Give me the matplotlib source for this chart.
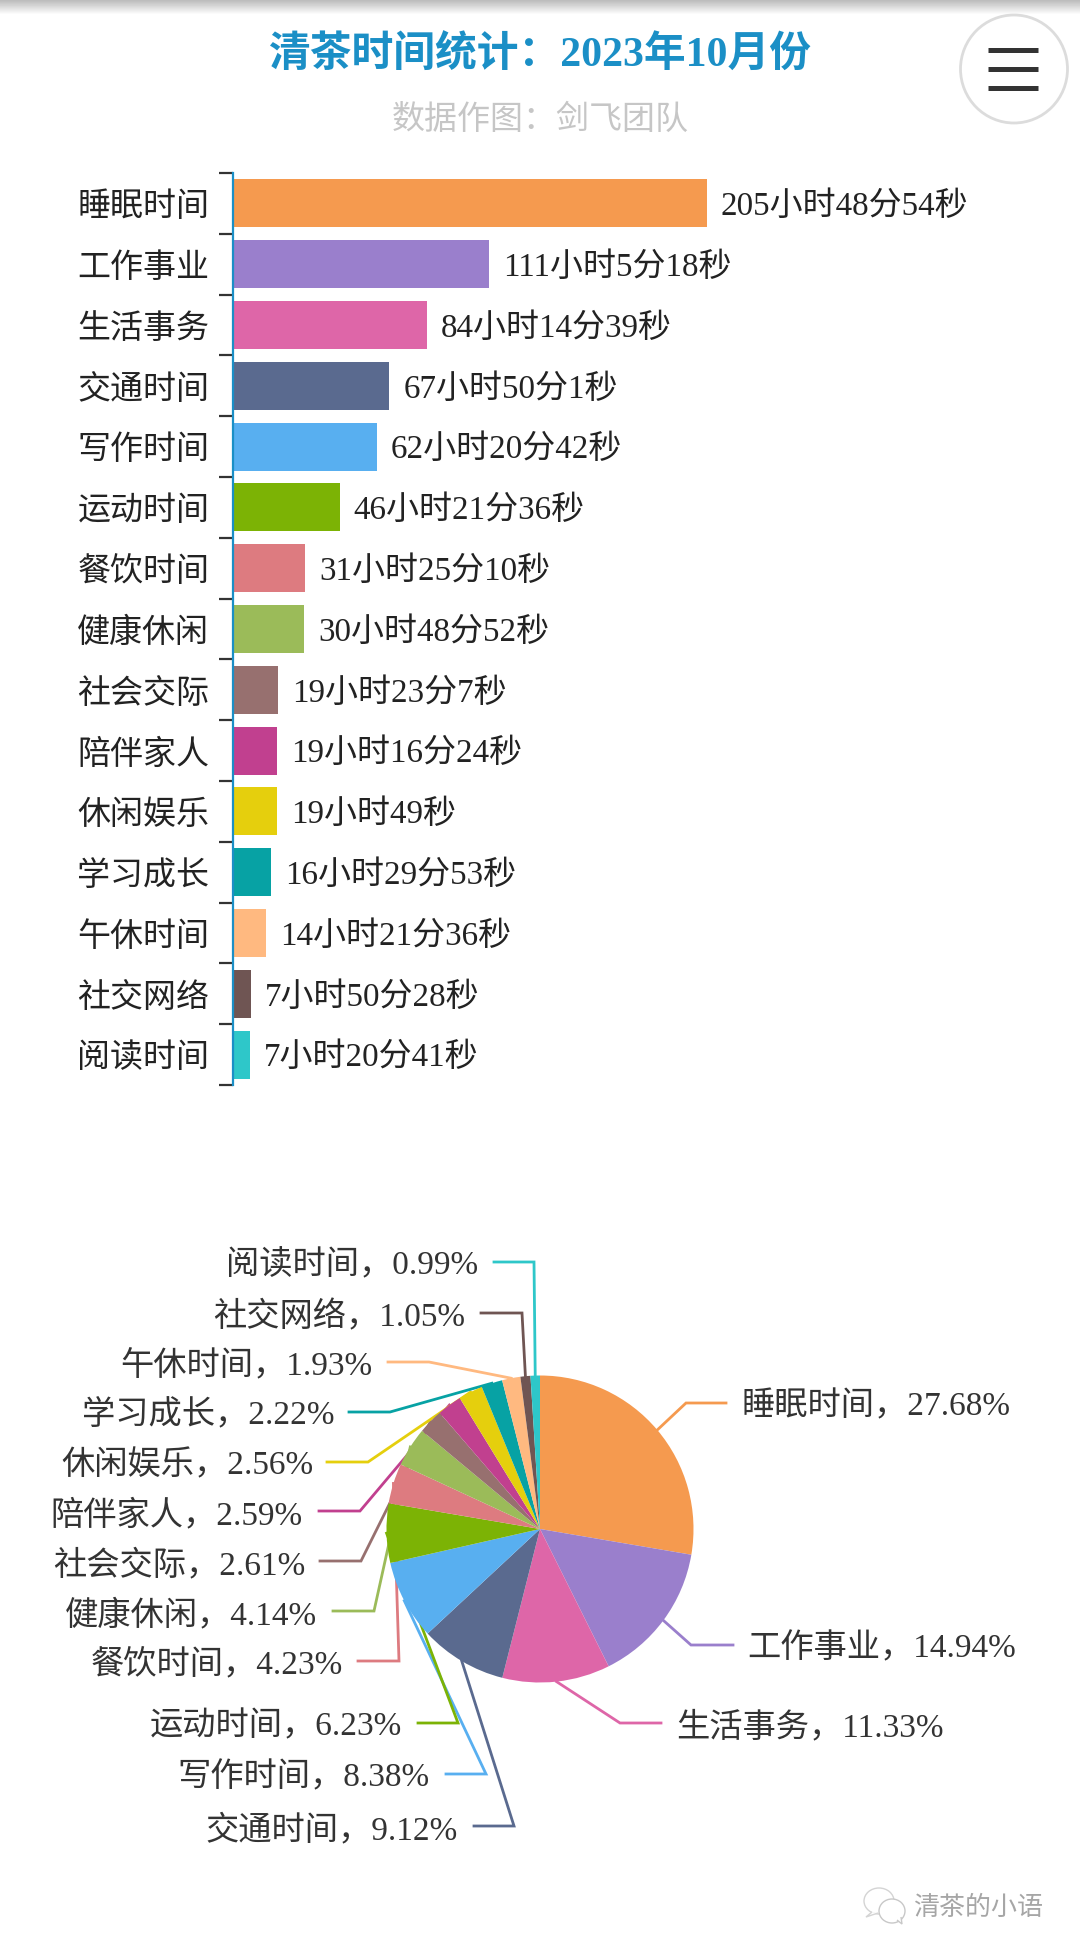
import math
import numpy as np
import matplotlib
matplotlib.use("Agg")
import matplotlib.pyplot as plt
from matplotlib.patches import Ellipse, Polygon

FONT = ['Liberation Serif', 'Noto Sans CJK SC', 'DejaVu Sans']
plt.rcParams['font.family'] = FONT

categories = ['睡眠时间', '工作事业', '生活事务', '交通时间', '写作时间', '运动时间', '餐饮时间', '健康休闲',
              '社会交际', '陪伴家人', '休闲娱乐', '学习成长', '午休时间', '社交网络', '阅读时间']
hours = [205, 111, 84, 67, 62, 46, 31, 30, 19, 19, 19, 16, 14, 7, 7]
minutes = [48, 5, 14, 50, 20, 21, 25, 48, 23, 16, 0, 29, 21, 50, 20]
seconds = [54, 18, 39, 1, 42, 36, 10, 52, 7, 24, 49, 53, 36, 28, 41]
percents = [27.68, 14.94, 11.33, 9.12, 8.38, 6.23, 4.23, 4.14, 2.61, 2.59, 2.56, 2.22, 1.93, 1.05, 0.99]
colors = ['#F59A4F', '#9A7FCC', '#DE66A8', '#5A6A8F', '#58AFF0', '#7CB305', '#DD7B80', '#9BBB59',
          '#97706F', '#C1408F', '#E5CF0D', '#07A2A4', '#FFB980', '#6F5553', '#2EC7C9']
title = '清茶时间统计：2023年10月份'
subtitle = '数据作图：剑飞团队'
watermark = '清茶的小语'

W, H = 1080, 1956
PX = 0.72  # px -> pt at dpi 100


def axes_px(fig, x0, y0, x1, y1, **kw):
    return fig.add_axes([x0 / W, 1 - y1 / H, (x1 - x0) / W, (y1 - y0) / H], **kw)


def fmt_time(h, m, s):
    return f"{h}小时" + (f"{m}分" if m else "") + (f"{s}秒" if s else "")


fig = plt.figure(figsize=(W / 100, H / 100), dpi=100, facecolor='white')

# overlay in pixel coordinates, beneath the charts
ov = fig.add_axes([0, 0, 1, 1], zorder=0)
ov.imshow(np.linspace(0.72, 1, 16)[:, None], cmap='gray', vmin=0, vmax=1, aspect='auto', extent=(0, W, 16, 0))
ov.set_xlim(0, W)
ov.set_ylim(H, 0)
ov.axis('off')

ov.text(540, 56, title, color='#1B8FC6', fontsize=41.8 * PX, fontweight='bold', ha='center', va='center')
ov.text(540, 120, subtitle, color='#C6C6C6', fontsize=33 * PX, ha='center', va='center')

# menu button
ov.add_patch(Ellipse((1014, 70), 107, 108, fc='white', ec='#DCDCDC', lw=2))
for yy in (51, 70, 89):
    ov.plot([988, 1038], [yy, yy], color='#333333', lw=3.6, solid_capstyle='butt')

# ---------- bars ----------
values = [h + m / 60 + s / 3600 for h, m, s in zip(hours, minutes, seconds)]
ax = axes_px(fig, 233, 174, 1040, 1086, zorder=1)
ax.patch.set_alpha(0)
pos = np.arange(len(categories))
ax.barh(pos, values, height=48 / 60.8, color=colors)
ax.set_ylim(len(categories) - 0.5, -0.5)
ax.set_xlim(0, max(values) * (1040 - 233) / (707 - 233))
ax.set_xticks([])
ax.set_yticks(np.arange(len(categories) + 1) - 0.5, [''] * (len(categories) + 1))
ax.set_yticks(pos, categories, minor=True)
ax.tick_params(axis='y', which='major', length=10, width=1.6, color='#333333', pad=0)
ax.tick_params(axis='y', which='minor', length=0, pad=17, labelsize=33 * PX, labelcolor='#222222')
for side in ('top', 'right', 'bottom'):
    ax.spines[side].set_visible(False)
ax.spines['left'].set_color('#1B8FC6')
ax.spines['left'].set_linewidth(1.6)
for i, v in enumerate(values):
    ax.annotate(fmt_time(hours[i], minutes[i], seconds[i]), (v, i), xytext=(14 * PX, -2.5 * PX),
                textcoords='offset points', va='center', ha='left', fontsize=33 * PX, color='#222222')

# ---------- pie ----------
CX, CY, R = 540, 1530, 153.5
pie_ax = axes_px(fig, CX - R, CY - R, CX + R, CY + R, zorder=2)
pie_ax.patch.set_alpha(0)
wedges, _ = pie_ax.pie(percents, colors=colors, startangle=90, counterclock=False, radius=1,
                       wedgeprops={'linewidth': 0})
pie_ax.set_xlim(-1, 1)
pie_ax.set_ylim(-1, 1)

# label row y, text anchor x, leader start x, leader elbow x
label_y = [1404, 1646, 1724, 1827, 1775, 1724, 1662, 1612, 1562, 1512, 1463, 1413, 1363, 1314, 1263]
label_x = [741, 747, 676, 458, 429, 402, 343, 317, 305, 303, 313, 334, 372, 465, 478]
lead_x = [726, 733, 661, 474, 446, 418, 358, 333, 320, 319, 327, 349, 388, 481, 494]
elbow_x = [686, 691, 620, 514, 486, 458, 399, 374, 361, 360, 368, 390, 429, 522, 534]
for i, w in enumerate(wedges):
    mid = math.radians((w.theta1 + w.theta2) / 2)
    ex, ey = CX + R * math.cos(mid), CY - R * math.sin(mid)
    ov.plot([lead_x[i], elbow_x[i], ex], [label_y[i], label_y[i], ey], color=colors[i], lw=2,
            solid_joinstyle='miter')
    right_side = i < 3
    ov.text(label_x[i], label_y[i] + 3, f"{categories[i]}，{percents[i]:.2f}%", fontsize=33.3 * PX,
            color='#333333', va='center', ha='left' if right_side else 'right')

# ---------- watermark ----------
ov.text(913, 1908, watermark, color='#A6A6A6', fontsize=26 * PX, ha='left', va='center')
ov.add_patch(Ellipse((879, 1902), 30, 26, fc='white', ec='#D4D4D4', lw=1))
ov.add_patch(Ellipse((892, 1912), 26, 24, fc='white', ec='#C8C8C8', lw=1, zorder=3))
ov.add_patch(Polygon([[897, 1921], [902, 1925], [901, 1918]], closed=False, fc='white', ec='#C8C8C8', lw=1, zorder=4))
ov.add_patch(Polygon([[872, 1913], [866, 1918], [878, 1914]], closed=False, fc='white', ec='#D4D4D4', lw=1))

fig.savefig('out.png', dpi=100, facecolor='white')
